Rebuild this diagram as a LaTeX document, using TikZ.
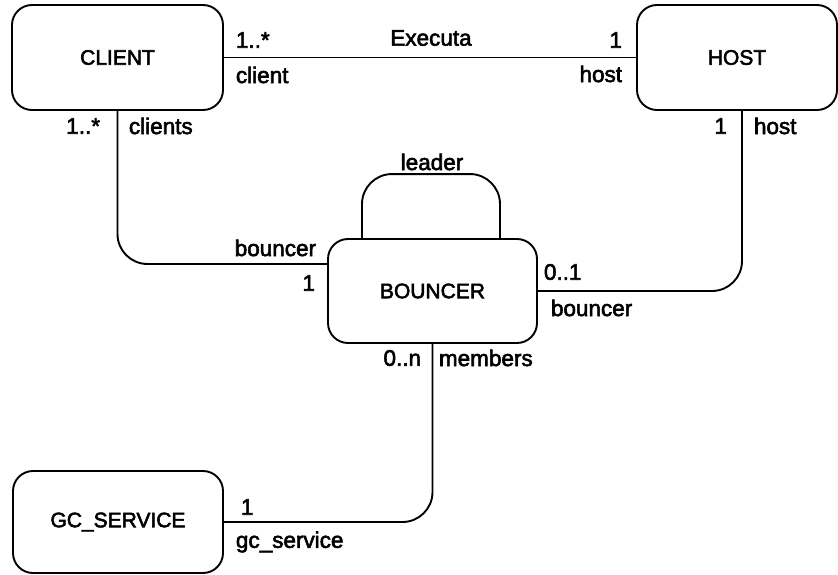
\documentclass[tikz,border=0pt]{standalone}
\usepackage{fontspec}
\setmainfont{Liberation Sans}
% slightly heavier type: fill and stroke the glyph outlines
\newcommand\heavytext[1]{\special{pdf:literal direct 2 Tr 0.55 w}#1\special{pdf:literal direct 0 Tr}}
\begin{document}
\begin{tikzpicture}[x=1pt,y=-1pt,line width=1.9pt,
  entity/.style={draw,rounded corners=20pt,inner sep=0pt,font=\fontsize{21}{25}\selectfont},
  lbl/.style={inner sep=0pt,font=\fontsize{22.5}{26}\selectfont},
  link/.style={rounded corners=30pt}]
\useasboundingbox (0,0) rectangle (838,575);

% classes
\node[entity,minimum width=211pt,minimum height=105pt] (client) at (117.5,57.5) {\heavytext{CLIENT}};
\node[entity,minimum width=200pt,minimum height=105pt] (host) at (737,57.5) {\heavytext{HOST}};
\node[entity,minimum width=209pt,minimum height=104pt] (bouncer) at (432.5,291) {\heavytext{BOUNCER}};
\node[entity,minimum width=210pt,minimum height=102pt] (gc) at (118,522) {\heavytext{GC\_SERVICE}};

% associations
\draw (client.east) -- (host.west);
\draw[link] (client.south) |- ([yshift=27pt]bouncer.west);
\draw[link] ([xshift=5pt]host.south) |- (bouncer.east);
\draw[link] (bouncer.south) |- (gc.east);
\draw[rounded corners=30pt] ([xshift=-70.5pt]bouncer.north) -- ++(0,-64) -| ([xshift=67.5pt]bouncer.north);

% roles and multiplicities
\node[lbl,anchor=west] (m1) at (235,40) {\heavytext{1..*}};
\node[lbl,anchor=west] (r1) at (235,75) {\heavytext{client}};
\node[lbl] (exe) at (431,38) {\heavytext{Executa}};
\node[lbl,anchor=east] (m2) at (623,40) {\heavytext{1}};
\node[lbl,anchor=east] (r2) at (623,74) {\heavytext{host}};
\node[lbl,anchor=east] (m3) at (101,126) {\heavytext{1..*}};
\node[lbl,anchor=west] (r3) at (128,126) {\heavytext{clients}};
\node[lbl,anchor=east] (m4) at (728,126) {\heavytext{1}};
\node[lbl,anchor=west] (r4) at (753,126) {\heavytext{host}};
\node[lbl] (r5) at (432,162) {\heavytext{leader}};
\node[lbl,anchor=east] (r6) at (317,248) {\heavytext{bouncer}};
\node[lbl,anchor=east] (m6) at (316,283) {\heavytext{1}};
\node[lbl,anchor=west] (m7) at (543,272) {\heavytext{0..1}};
\node[lbl,anchor=west] (r7) at (550,308) {\heavytext{bouncer}};
\node[lbl,anchor=east] (m8) at (422,358) {\heavytext{0..n}};
\node[lbl,anchor=west] (r8) at (438,358) {\heavytext{members}};
\node[lbl,anchor=west] (m9) at (240,507) {\heavytext{1}};
\node[lbl,anchor=west] (r9) at (235,542) {\heavytext{gc\_service}};
\end{tikzpicture}
\end{document}
